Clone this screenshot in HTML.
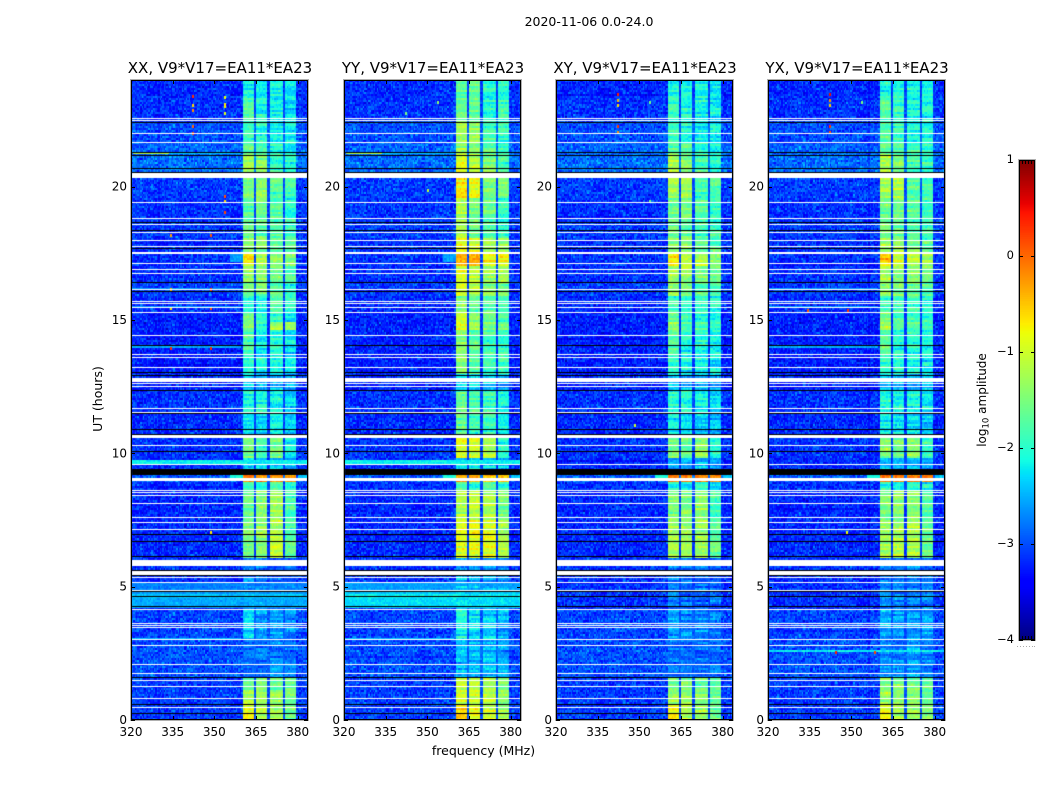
<!DOCTYPE html>
<html>
<head>
<meta charset="utf-8">
<title>2020-11-06 0.0-24.0</title>
<style>
html,body{margin:0;padding:0;background:#fff;}
#fig{position:relative;width:1050px;height:800px;overflow:hidden;background:#fff;font-family:"DejaVu Sans","Liberation Sans",sans-serif;}
canvas{position:absolute;display:block;}
svg{position:absolute;left:0;top:0;}
svg text{font-family:"DejaVu Sans","Liberation Sans",sans-serif;fill:#000;}
</style>
</head>
<body>
<div id="fig">
<svg id="ov" width="1050" height="800"></svg>
</div>
<script>
// ---- chart data (hours, MHz, log10 amplitude) ----
var panelTitles = ["XX, V9*V17=EA11*EA23","YY, V9*V17=EA11*EA23","XY, V9*V17=EA11*EA23","YX, V9*V17=EA11*EA23"];
var polNames = ["xx","yy","xy","yx"];
var xTicks = [320,335,350,365,380];
var yTicks = [0,5,10,15,20];
var cbarTicks = [1,0,-1,-2,-3,-4];
// Four sub-bands of the receiver passband [start MHz, end MHz]
var subBands = [[360.3,364.4],[365.4,369.4],[370.5,374.5],[375.5,379.7]];
// Top hour of each time segment (a segment ends at the next top, the last at 0)
var segmentTops = [24,23.4,22.5,21.7,21.2,20.3,19.6,18.8,18.1,17.5,17,16.4,15.9,15.3,14.9,14.6,13.9,13,12.4,11.5,10.7,9.8,9.19,8.95,8.6,7.5,6.1,5.4,4.1,3,1.6,1.1,0.6];
// Out-of-band noise floor per segment
var floorLevels = [-3.2,-3.15,-3,-2.9,-2.85,-3.1,-3.15,-3.1,-3.15,-3.15,-3.15,-3.1,-3.2,-3.25,-3.25,-3.25,-3.25,-3.2,-3.15,-3.2,-3.15,-3.2,-2.95,-3.15,-3.2,-3.2,-3.15,-3.15,-3.05,-3,-3.1,-3.1,-3.1];
// In-band level per segment, per sub-band
var bandXX = [[-2.2,-2.2,-2.1,-2.2],[-1.85,-2.1,-2.2,-2.3],[-2,-2,-2.2,-2.2],[-1.7,-1.8,-2,-2.1],[-1.3,-1.5,-1.9,-2],[-1.5,-1.4,-1.8,-1.9],[-1.8,-1.6,-1.7,-2],[-1.7,-1.7,-1.8,-1.9],[-1.5,-1.5,-1.7,-1.8],[-0.8,-1.2,-1.4,-1.5],[-1.4,-1.4,-1.6,-1.7],[-1.6,-1.6,-1.7,-2],[-2,-2.1,-1.9,-2.1],[-1.6,-2.1,-1.9,-2.2],[-1.5,-2,-1.2,-1.4],[-1.8,-2.2,-2,-2.2],[-2.1,-2.2,-2.1,-2.3],[-2.4,-2.5,-2.5,-2.6],[-2.1,-2.1,-2.1,-2.3],[-2.2,-2.3,-2.3,-2.5],[-1.6,-1.9,-1.5,-2.1],[-2.4,-2.4,-2.4,-2.5],[-0.15,-0.2,-0.2,-0.25],[-2,-2.2,-1.8,-2.2],[-1.7,-1.4,-1.3,-1.8],[-1.5,-1.4,-1.2,-1.8],[-2.8,-2.8,-2.8,-2.9],[-2.75,-2.8,-2.85,-2.85],[-2.4,-2.6,-2.6,-2.7],[-2.85,-2.85,-2.75,-2.85],[-1.7,-1.6,-1.6,-1.6],[-1.3,-1.3,-1.3,-1.5],[-0.9,-1.2,-1.3,-1.6]];
var bandYY = [[-1.7,-1.6,-2,-2],[-1.7,-1.7,-2,-1.9],[-1.3,-1.4,-1.8,-1.9],[-1.3,-1.4,-1.7,-1.9],[-1,-1.2,-1.5,-1.8],[-0.8,-0.9,-1.6,-1.6],[-1.2,-1.5,-1.6,-1.9],[-1.3,-1.6,-1.7,-2],[-0.9,-1,-1.2,-1.4],[-0.35,-0.4,-0.8,-0.7],[-1,-1.1,-1.3,-1.3],[-1.1,-1.2,-1.5,-1.5],[-1.5,-1.7,-1.8,-2],[-1.2,-1.5,-1.6,-1.8],[-0.9,-1.3,-1.5,-1.6],[-1.4,-1.7,-1.8,-1.9],[-1.5,-1.7,-1.8,-1.9],[-2.3,-2.3,-2.4,-2.5],[-1.7,-1.8,-1.9,-2.1],[-1.7,-1.9,-2,-2.3],[-1,-1,-1.2,-2],[-2.2,-2.2,-2.3,-2.4],[-0.35,-0.4,-0.5,-0.7],[-1.8,-2,-1.7,-2],[-1.2,-1.1,-1.2,-1.5],[-1,-0.9,-1,-1.3],[-2.7,-2.7,-2.7,-2.8],[-2.4,-2.5,-2.6,-2.6],[-2.1,-2.3,-2.3,-2.5],[-2.5,-2.5,-2.5,-2.6],[-1.2,-1.2,-1.3,-1.5],[-1,-1,-1.1,-1.4],[-0.6,-0.9,-1,-1.3]];
var bandXY = [[-2.1,-2.1,-2.1,-2.2],[-1.9,-2,-2.1,-2.2],[-1.9,-2,-2.2,-2.2],[-1.7,-1.8,-2,-2.1],[-1.2,-1.4,-1.8,-2],[-1.3,-1.3,-1.8,-1.8],[-1.6,-1.5,-1.7,-1.9],[-1.6,-1.6,-1.8,-1.9],[-1.4,-1.4,-1.6,-1.7],[-0.7,-1,-1.2,-1.4],[-1.3,-1.3,-1.5,-1.6],[-1.4,-1.5,-1.7,-1.8],[-1.9,-2,-1.9,-2.1],[-1.6,-1.9,-1.9,-2.1],[-1.3,-1.7,-1.8,-1.9],[-1.7,-2,-2,-2.1],[-1.9,-2.1,-2.1,-2.2],[-2.4,-2.5,-2.5,-2.6],[-2,-2,-2.1,-2.3],[-2.2,-2.3,-2.4,-2.5],[-1.5,-1.6,-1.3,-2],[-2.5,-2.5,-2.5,-2.6],[-0.1,-0.15,-0.15,-0.2],[-2,-2.2,-1.9,-2.1],[-1.5,-1.5,-1.4,-1.9],[-1.3,-1.3,-1.3,-1.7],[-2.75,-2.75,-2.8,-2.9],[-2.75,-2.8,-2.85,-2.85],[-2.6,-2.7,-2.7,-2.8],[-2.85,-2.85,-2.85,-2.85],[-1.6,-1.5,-1.6,-1.7],[-1.3,-1.3,-1.4,-1.6],[-0.8,-1.1,-1.3,-1.6]];
var bandYX = [[-2.1,-2,-2.1,-2.1],[-1.8,-1.9,-2.1,-2.1],[-1.8,-1.9,-2.1,-2.1],[-1.6,-1.7,-1.9,-2],[-1.2,-1.4,-1.8,-1.9],[-1.3,-1.2,-1.7,-1.8],[-1.6,-1.5,-1.7,-1.9],[-1.6,-1.6,-1.8,-1.9],[-1.3,-1.3,-1.5,-1.7],[-0.6,-1,-1.1,-1.3],[-1.2,-1.3,-1.4,-1.5],[-1.4,-1.5,-1.6,-1.8],[-1.9,-1.9,-1.9,-2],[-1.5,-1.8,-1.8,-2],[-1.3,-1.6,-1.7,-1.8],[-1.7,-2,-2,-2.1],[-1.9,-2,-2.1,-2.2],[-2.4,-2.5,-2.5,-2.5],[-2,-2,-2.1,-2.2],[-2.2,-2.3,-2.3,-2.4],[-1.4,-1.5,-1.4,-1.9],[-2.5,-2.5,-2.5,-2.6],[-0.1,-0.15,-0.15,-0.2],[-2,-2.1,-1.9,-2.1],[-1.5,-1.4,-1.4,-1.8],[-1.3,-1.2,-1.2,-1.6],[-2.7,-2.7,-2.7,-2.8],[-2.7,-2.7,-2.75,-2.75],[-2.55,-2.6,-2.6,-2.6],[-2.7,-2.7,-2.6,-2.7],[-1.5,-1.4,-1.5,-1.6],[-1.3,-1.3,-1.4,-1.6],[-0.9,-1.2,-1.3,-1.5]];
var bandLevels = [bandXX,bandYY,bandXY,bandYX];
// Flagged (blank) single rows and blocks, hours
var whiteLines = [22.575,22.49,22,21.66,19.41,18.81,18.59,18.29,17.99,17.76,17.13,16.9,16.75,16.15,15.7,15.62,15.48,15.3,14.43,13.71,13.6,13.23,12.63,12.54,11.7,11.56,10.3,9.585,8.63,8.54,8.43,8.13,7.62,7.41,7.15,5.35,5.19,4.89,4.17,3.65,3.56,3.49,3.03,2.82,2.09,1.75,1.51,1.275,0.81,0.48];
var whiteBlocks = [[20.34,20.52],[17.49,17.56],[12.675,12.825],[10.59,10.7],[8.97,9.075],[5.775,6.01],[5.45,5.6]];
// Zero-amplitude (black) rows and block, hours
var blackLines = [22.41,21.29,21.18,20.7,20.55,18.69,18.39,17.69,16.43,16.08,14.05,13.05,12.92,12.36,11.51,10.92,10.74,10.08,6.99,6.7,6.16,5.61,5.43,4.85,4.66,4.26,1.6,0.59,0.26];
var blackBlocks = [[9.19,9.41]];
// Bright rows: polarisations, start h, end h, start MHz, end MHz, level
var brightRows = [
 ["xx",4.9,5.15,320,384,-2.75],["xx",4.75,4.9,320,384,-2.6],["xx",4.55,4.75,320,384,-2.4],["xx",4.2,4.55,320,384,-2.55],
 ["yy",4.9,5.15,320,384,-2.6],["yy",4.75,4.9,320,384,-2.4],["yy",4.55,4.75,320,384,-2.2],["yy",4.2,4.55,320,384,-2.3],
 ["xx yy",9.58,9.76,320,384,-2.2],["xx yy",3,3.08,320,360,-2.45],["yx",2.56,2.64,320,384,-2.2],
 ["xx yy",21.22,21.28,321,334,-1.1],["xx yy",21.22,21.28,334,360,-2.4],
 ["xx xy yx yy",9.07,9.19,356,360.2,-2.1],["xx xy yx yy",9.07,9.19,380,384,-2.4],["yy xx",17.2,17.45,356,360.2,-2.6],
 ["xx yx",18.2,18.26,320,360,-2.55],["xx yx",16.15,16.22,320,360,-2.6],["xx yx",13.96,14.02,320,360,-2.55],["xx yx",15.46,15.5,320,360,-2.65]
];
// Isolated interference spots: polarisation, MHz, hour, level
var rfiSpots = [
 ["xx",353.5,23.4,-0.8],["xx",353.5,23.15,-0.7],["xx",353.5,23.05,-0.7],["xx",353.5,22.8,-0.9],["xx",342,23.45,0.3],["xx",342,23.1,-0.6],["xx",342,22.9,-0.2],["xx",342,22.3,0],["xx",342,22.05,0.2],["xx",353.5,19.7,0.1],["xx",353.5,19.5,-0.6],["xx",353.5,19.1,0.2],["xx",334,18.22,-0.3],["xx",348.5,18.22,0.1],["xx",334,16.2,-0.4],["xx",348.5,16.2,0.2],["xx",334,15.48,-0.6],["xx",348.5,15.48,0.1],["xx",334,13.98,0.3],["xx",348.5,13.98,0.3],["xx",348.5,7.1,-0.7],
 ["yy",353.5,23.2,-1.4],["yy",342,22.8,-1.5],["yy",350,19.9,-1.1],
 ["xy",342,23.5,0.4],["xy",342,23.3,-0.4],["xy",342,23.1,-0.6],["xy",342,22.3,0.3],["xy",342,22.1,-0.2],["xy",353.5,23.2,-1.6],["xy",353.5,19.5,-1.6],["xy",348,11.1,-1],
 ["yx",342,23.5,0.5],["yx",342,23.3,-0.2],["yx",342,23.1,-0.5],["yx",342,22.3,0.3],["yx",342,22.1,0.1],["yx",353.5,23.2,-1.5],["yx",334,15.4,0.1],["yx",348.5,15.4,0.3],["yx",344,2.58,0.4],["yx",358,2.58,0.2],["yx",348,7.1,-0.8]
];
// Hand-typed grain residuals approximating the unreadable cell-to-cell speckle
var grainTable = [0.12,-0.31,0.22,-0.08,0.35,-0.19,0.04,-0.27,0.18,0.29,-0.14,-0.36,0.09,0.25,-0.05,-0.22,0.33,-0.11,0.02,0.16,-0.33,0.27,-0.17,0.07,-0.25,0.38,-0.03,-0.12,0.2,-0.29,0.14,0.31,-0.21,-0.06,0.1,-0.38,0.24,0.01,-0.16,0.3,-0.24,0.06,0.17,-0.34,0.28,-0.09,-0.2,0.13,0.34,-0.28,0.05,-0.13,0.23,-0.02,-0.37,0.19,0.11,-0.23,0.32,-0.1,-0.01];
var colorMin = -4;
var colorMax = 1;

// ---- layout ----
var panelLefts = [131,344,556,768];
var plotTop = 80, plotW = 177, plotH = 640, xMin = 320, xMax = 383.7, yMax = 24;
var nCols = 128, nRows = 320;
function xScale(f){ return (f-xMin)/(xMax-xMin)*plotW; }
function yScale(h){ return (yMax-h)/yMax*plotH; }
function cbarY(v){ return 160+(colorMax-v)/(colorMax-colorMin)*480; }
function clamp(v){ return Math.max(0,Math.min(1,v)); }
function jet(t){
  t=clamp(t);
  var r = t<0.35?0:t<0.66?(t-0.35)/0.31:t<0.89?1:1-(t-0.89)/0.11*0.5;
  var g = t<0.125?0:t<0.375?(t-0.125)/0.25:t<0.64?1:t<0.91?1-(t-0.64)/0.27:0;
  var b = t<0.11?0.5+t/0.11*0.5:t<0.34?1:t<0.65?1-(t-0.34)/0.31:0;
  return "rgb("+Math.round(r*255)+","+Math.round(g*255)+","+Math.round(b*255)+")";
}
function segmentIndex(h){
  for(var s=0;s<segmentTops.length-1;s++){ if(h>segmentTops[s+1]) return s; }
  return segmentTops.length-1;
}
function cellLevel(p,f,h,c,r){
  var s = segmentIndex(h);
  var n = grainTable.length;
  var cp = c+p*23, rp = r+p*37;
  var grain = (grainTable[(cp*cp*3+rp*7)%n]+grainTable[(rp*rp*5+cp*11)%n]+grainTable[(cp*rp*3+cp+rp)%n])*0.55;
  var floor = floorLevels[s];
  var v = floor+grain;
  var inBand = false;
  for(var b=0;b<subBands.length;b++){
    if(f>=subBands[b][0]&&f<subBands[b][1]){
      var ripple = grainTable[(r*r*3+r*5+b*11+p*19)%n];
      var lvl = bandLevels[p][s][b];
      v = lvl+ripple*(lvl>-0.5?0.25:0.7)+grain*0.55;
      inBand = true;
    }
  }
  if(!inBand&&f>=360.3&&f<379.7){
    v = floor+0.1+grain*0.5;
  }
  for(var i=0;i<brightRows.length;i++){
    var br = brightRows[i];
    if(br[0].indexOf(polNames[p])>=0&&h>=br[1]&&h<br[2]&&f>=br[3]&&f<br[4]){
      v = Math.max(v,br[5]+grain*0.4);
    }
  }
  return v;
}
function makeSvg(tag,attrs,parent){
  var e=document.createElementNS("http://www.w3.org/2000/svg",tag);
  for(var k in attrs){ e.setAttribute(k,attrs[k]); }
  (parent||ov).appendChild(e);
  return e;
}
var fig=document.getElementById("fig"), ov=document.getElementById("ov");

function fillHourBand(ctx,h0,h1,color){
  ctx.fillStyle=color;
  var top=Math.round(yScale(h1));
  ctx.fillRect(1,top,plotW-2,Math.max(Math.round(yScale(h0))-top,1));
}
function drawPanel(p){
  var left=panelLefts[p];
  var cv=document.createElement("canvas");
  
  
  cv.width=plotW; cv.height=plotH;
  cv.style.left=left+"px"; cv.style.top=plotTop+"px";
  cv.style.width=plotW+"px"; cv.style.height=plotH+"px";
  fig.insertBefore(cv,ov);
  var ctx=cv.getContext("2d");
  var cw=plotW/nCols, rh=plotH/nRows;
  for(var r=0;r<nRows;r++){
    var h=yMax-(r+0.5)/nRows*yMax;
    for(var c=0;c<nCols;c++){
      var f=xMin+(c+0.5)/nCols*(xMax-xMin);
      ctx.fillStyle=jet((cellLevel(p,f,h,c,r)-colorMin)/(colorMax-colorMin));
      ctx.fillRect(Math.floor(c*cw),r*rh,Math.ceil(cw),rh);
    }
  }
  for(var i=0;i<rfiSpots.length;i++){
    var sp=rfiSpots[i];
    if(sp[0]===polNames[p]){
      ctx.fillStyle=jet((sp[3]-colorMin)/(colorMax-colorMin));
      ctx.fillRect(Math.round(xScale(sp[1])),Math.round(yScale(sp[2])),2,3);
    }
  }
  whiteBlocks.forEach(function(b){ fillHourBand(ctx,b[0],b[1],"#fff"); });
  blackBlocks.forEach(function(b){ fillHourBand(ctx,b[0],b[1],"#000"); });
  ctx.fillStyle="#fff";
  whiteLines.forEach(function(h){ ctx.fillRect(1,Math.round(yScale(h)),plotW-2,1); });
  ctx.fillStyle="#000";
  blackLines.forEach(function(h){ ctx.fillRect(1,Math.round(yScale(h)),plotW-2,1); });

  // frame
  var g=makeSvg("g",{});
  
  
  var outer=makeSvg("rect",{x:left-0.5,y:plotTop-0.5,width:plotW+1,height:plotH+1,fill:"none",stroke:"#b0b0b0","stroke-width":1},g);
  
  
  var frame=makeSvg("rect",{x:left+0.5,y:plotTop+0.5,width:plotW-1,height:plotH-1,fill:"none",stroke:"#000","stroke-width":1},g);
  
  

  // x ticks
  xTicks.forEach(function(v){
    var x=Math.round(left+xScale(v))+0.5;
    var t1=makeSvg("line",{x1:x,x2:x,y1:plotTop+plotH,y2:plotTop+plotH-4,stroke:"#000","stroke-width":1},g);
    
    
    var t2=makeSvg("line",{x1:x,x2:x,y1:plotTop,y2:plotTop+4,stroke:"#000","stroke-width":1},g);
    
    
    var lb=makeSvg("text",{x:left+xScale(v),y:736,"text-anchor":"middle","font-size":"12px"},g);
    
    
    lb.textContent=v;
  });
  // y ticks
  yTicks.forEach(function(v){
    var y=Math.round(plotTop+yScale(v))+0.5;
    var t1=makeSvg("line",{x1:left,x2:left+4,y1:y,y2:y,stroke:"#000","stroke-width":1},g);
    
    
    var t2=makeSvg("line",{x1:left+plotW,x2:left+plotW-4,y1:y,y2:y,stroke:"#000","stroke-width":1},g);
    
    
    var lb=makeSvg("text",{x:left-4,y:plotTop+yScale(v)+4,"text-anchor":"end","font-size":"12px"},g);
    
    
    lb.textContent=v;
  });
  // title
  var tt=makeSvg("text",{x:left+plotW/2+0.5,y:73,"text-anchor":"middle","font-size":"15px"},g);
  
  
  tt.textContent=panelTitles[p];
}
for(var p=0;p<panelTitles.length;p++){ drawPanel(p); }

// figure labels
var sup=makeSvg("text",{x:589,y:26,"text-anchor":"middle","font-size":"12.5px"});


sup.textContent="2020-11-06 0.0-24.0";
var xl=makeSvg("text",{x:483.5,y:755,"text-anchor":"middle","font-size":"12.5px"});


xl.textContent="frequency (MHz)";
var yl=makeSvg("text",{x:0,y:0,"text-anchor":"middle","font-size":"12.5px",transform:"translate(102,399) rotate(-90)"});


yl.textContent="UT (hours)";

// colorbar
var cb=document.createElement("canvas");


cb.width=16; cb.height=480;
cb.style.left="1019px"; cb.style.top="160px";
fig.insertBefore(cb,ov);
var cbx=cb.getContext("2d");
for(var i=0;i<256;i++){
  cbx.fillStyle=jet(1-(i+0.5)/256);
  cbx.fillRect(0,i*480/256,16,480/256+1);
}
var cg=makeSvg("g",{});


var co=makeSvg("rect",{x:1018.5,y:159.5,width:17,height:481,fill:"none",stroke:"#b0b0b0","stroke-width":1},cg);


var cf=makeSvg("rect",{x:1019.5,y:160.5,width:15,height:479,fill:"none",stroke:"#000","stroke-width":1},cg);


cbarTicks.forEach(function(v){
  var y=Math.round(cbarY(v))+0.5;
  var t1=makeSvg("line",{x1:1019,x2:1023,y1:y,y2:y,stroke:"#000","stroke-width":1},cg);
  
  
  var t2=makeSvg("line",{x1:1035,x2:1031,y1:y,y2:y,stroke:"#000","stroke-width":1},cg);
  
  
  var lb=makeSvg("text",{x:1014,y:cbarY(v)+3,"text-anchor":"end","font-size":"11.5px"},cg);
  
  
  lb.textContent=String(v).replace("-","\u2212");
});
[1022,1025,1028,1031].forEach(function(xp){
  var a=makeSvg("line",{x1:xp+0.5,x2:xp+0.5,y1:160,y2:164,stroke:"#000","stroke-width":1},cg);
  
  
  var b=makeSvg("line",{x1:xp+0.5,x2:xp+0.5,y1:640,y2:636,stroke:"#000","stroke-width":1},cg);
  
  
});
[1017,1020,1023,1026,1029,1032,1034].forEach(function(xp){
  var d=makeSvg("rect",{x:xp,y:646,width:1,height:1,fill:"#aaa"},cg);
  
  
});
var cl=makeSvg("text",{x:0,y:0,"text-anchor":"middle","font-size":"12px",transform:"translate(986,400) rotate(-90)"},cg);


cl.appendChild(document.createTextNode("log"));
var sub=makeSvg("tspan",{dy:"2.5","font-size":"8.5px"},cl);
sub.textContent="10";
var rest=makeSvg("tspan",{dy:"-2.5"},cl);
rest.textContent=" amplitude";
</script>
</body>
</html>
